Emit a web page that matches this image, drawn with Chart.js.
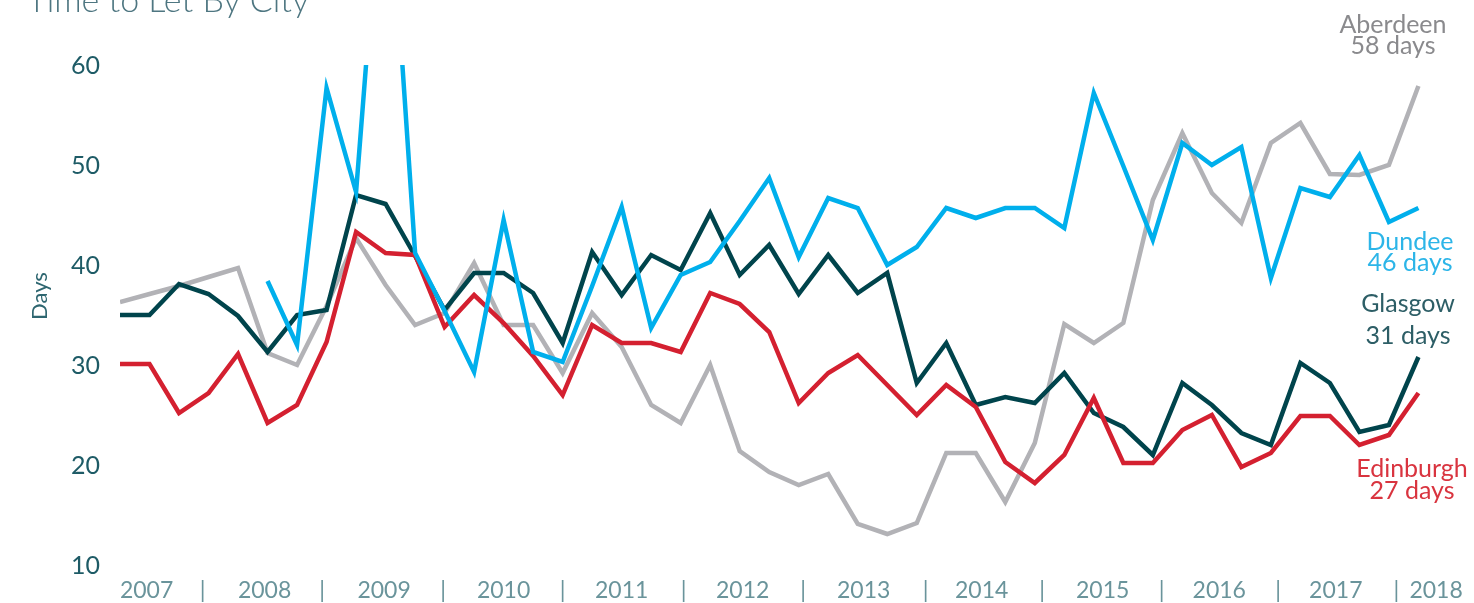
<!DOCTYPE html>
<html>
<head>
<meta charset="utf-8">
<script src="https://cdn.jsdelivr.net/npm/chart.js@4.4.1/dist/chart.umd.min.js"></script>
<style>
  html, body { margin: 0; padding: 0; background: #fff; }
  #wrap { width: 1474px; height: 603px; }
</style>
</head>
<body>
<div id="wrap"><canvas id="cityChart" width="1474" height="603"></canvas></div>
<script>
// quarterly figures, 2007 Q1 .. 2018 Q1
const quarters = [
  '2007 Q1', '2007 Q2', '2007 Q3', '2007 Q4', '2008 Q1', '2008 Q2', '2008 Q3', '2008 Q4',
  '2009 Q1', '2009 Q2', '2009 Q3', '2009 Q4', '2010 Q1', '2010 Q2', '2010 Q3', '2010 Q4',
  '2011 Q1', '2011 Q2', '2011 Q3', '2011 Q4', '2012 Q1', '2012 Q2', '2012 Q3', '2012 Q4',
  '2013 Q1', '2013 Q2', '2013 Q3', '2013 Q4', '2014 Q1', '2014 Q2', '2014 Q3', '2014 Q4',
  '2015 Q1', '2015 Q2', '2015 Q3', '2015 Q4', '2016 Q1', '2016 Q2', '2016 Q3', '2016 Q4',
  '2017 Q1', '2017 Q2', '2017 Q3', '2017 Q4', '2018 Q1'
];

const aberdeen = [36.4, 37.2, 38.0, 38.9, 39.8, 31.3, 30.1, 36.0, 42.8, 38.1, 34.1, 35.3, 40.3, 34.1, 34.1,
  29.3, 35.3, 31.9, 26.1, 24.3, 30.1, 21.5, 19.4, 18.1, 19.2, 14.2, 13.2, 14.3, 21.3, 21.3, 16.4, 22.3,
  34.2, 32.3, 34.3, 46.6, 53.3, 47.3, 44.3, 52.3, 54.3, 49.2, 49.1, 50.1, 58.0];

const dundee = [null, null, null, null, null, 38.5, 32.1, 57.8, 47.4, 85, 41.3, 35.5, 29.4, 44.6, 31.4,
  30.4, 38.0, 45.9, 33.8, 39.1, 40.4, 44.5, 48.8, 40.9, 46.8, 45.8, 40.1, 41.9, 45.8, 44.8, 45.8, 45.8,
  43.8, 57.3, 50.0, 42.6, 52.3, 50.1, 51.9, 38.8, 47.8, 46.9, 51.1, 44.4, 45.8];

const glasgow = [35.1, 35.1, 38.2, 37.2, 35.0, 31.4, 35.1, 35.6, 47.1, 46.2, 41.0, 35.6, 39.3, 39.3, 37.3,
  32.3, 41.4, 37.1, 41.1, 39.6, 45.3, 39.1, 42.1, 37.2, 41.1, 37.3, 39.3, 28.3, 32.3, 26.1, 26.9, 26.3,
  29.3, 25.3, 23.9, 21.1, 28.3, 26.1, 23.3, 22.1, 30.3, 28.3, 23.4, 24.1, 30.9];

const edinburgh = [30.2, 30.2, 25.3, 27.3, 31.2, 24.3, 26.1, 32.4, 43.4, 41.3, 41.1, 33.9, 37.1, 34.3, 31.0,
  27.1, 34.1, 32.3, 32.3, 31.4, 37.3, 36.2, 33.4, 26.3, 29.3, 31.1, 28.1, 25.1, 28.1, 25.9, 20.4, 18.3,
  21.1, 26.8, 20.3, 20.3, 23.6, 25.1, 19.9, 21.3, 25.0, 25.0, 22.1, 23.1, 27.3];

// x axis: year names and the "|" dividers, placed on the quarter index scale
const years = ['2007', '2008', '2009', '2010', '2011', '2012', '2013', '2014', '2015', '2016', '2017', '2018'];
const yearTickPos = [0.9, 4.9, 8.95, 13, 17, 21.1, 25.2, 29.2, 33.3, 37.25, 41.2, 44.6];
const dividerTickPos = [2.8, 6.85, 10.95, 15, 19.1, 23.15, 27.3, 31.25, 35.3, 39.25, 43.25];

const yTicks = [10, 20, 30, 40, 50, 60];

const endLabels = [
  { name: 'Aberdeen', last: '58 days' },
  { name: 'Dundee', last: '46 days' },
  { name: 'Glasgow', last: '31 days' },
  { name: 'Edinburgh', last: '27 days' }
];

const xTicks = yearTickPos.map((v, i) => ({ value: v, text: years[i] }))
  .concat(dividerTickPos.map(v => ({ value: v, text: '|' })))
  .sort((a, b) => a.value - b.value);

const toPoints = arr => arr.map((v, i) => ({ x: i, y: v }));

// title, axis name and the end-of-line labels
const textPlugin = {
  id: 'textPlugin',
  afterDraw(chart) {
    const ctx = chart.ctx;
    ctx.save();

    ctx.font = '300 34px Lato';
    ctx.fillStyle = '#4e7681';
    ctx.textAlign = 'left';
    ctx.textBaseline = 'alphabetic';
    ctx.fillText('Time to Let By City', 27, 12);

    ctx.save();
    ctx.translate(40, 296);
    ctx.rotate(-Math.PI / 2);
    ctx.font = '22px Lato';
    ctx.fillStyle = '#2e6670';
    ctx.textAlign = 'center';
    ctx.textBaseline = 'middle';
    ctx.fillText('Days', 0, 0);
    ctx.restore();

    const spots = [
      { x: 1393, y1: 33, y2: 54, color: '#8a8a8d' },
      { x: 1410, y1: 250, y2: 271, color: '#2cb5e8' },
      { x: 1408, y1: 312, y2: 344, color: '#2d5e66' },
      { x: 1412, y1: 477, y2: 499, color: '#d9343f' }
    ];
    ctx.font = '25px Lato';
    ctx.textAlign = 'center';
    ctx.textBaseline = 'alphabetic';
    endLabels.forEach((lab, i) => {
      const s = spots[i];
      ctx.fillStyle = s.color;
      ctx.fillText(lab.name, s.x, s.y1);
      ctx.fillText(lab.last, s.x, s.y2);
    });

    ctx.restore();
  }
};

const lineStyle = { borderWidth: 4.5, pointRadius: 0, pointHoverRadius: 0, tension: 0, fill: false, spanGaps: false };

new Chart(document.getElementById('cityChart'), {
  type: 'line',
  data: {
    datasets: [
      { label: 'Dundee', data: toPoints(dundee), borderColor: '#00afec', clip: { left: 3, right: 3, top: 1, bottom: 3 }, ...lineStyle },
      { label: 'Edinburgh', data: toPoints(edinburgh), borderColor: '#d42030', ...lineStyle },
      { label: 'Glasgow', data: toPoints(glasgow), borderColor: '#00444c', ...lineStyle },
      { label: 'Aberdeen', data: toPoints(aberdeen), borderColor: '#b2b2b6', ...lineStyle }
    ]
  },
  options: {
    responsive: false,
    animation: false,
    layout: { padding: { top: 66, right: 22, bottom: 0, left: 0 } },
    plugins: {
      legend: { display: false },
      tooltip: { enabled: false },
      title: { display: false }
    },
    scales: {
      x: {
        type: 'linear',
        min: 0,
        max: quarters.length,
        grid: { display: false, drawTicks: false },
        border: { display: false },
        afterBuildTicks: scale => { scale.ticks = xTicks.map(t => ({ value: t.value })); },
        afterFit: scale => { scale.height = 37; },
        ticks: {
          autoSkip: false,
          maxRotation: 0,
          padding: 11,
          color: '#6a949b',
          font: { family: 'Lato', size: 23 },
          callback: (value, index) => xTicks[index].text
        }
      },
      y: {
        min: 10,
        max: 60,
        grid: { display: false, drawTicks: false },
        border: { display: false },
        afterBuildTicks: scale => { scale.ticks = yTicks.map(v => ({ value: v })); },
        afterFit: scale => { scale.width = 120; },
        ticks: {
          padding: 20,
          color: '#1e5b66',
          font: { family: 'Lato', size: 25 }
        }
      }
    }
  },
  plugins: [textPlugin]
});
</script>
</body>
</html>
